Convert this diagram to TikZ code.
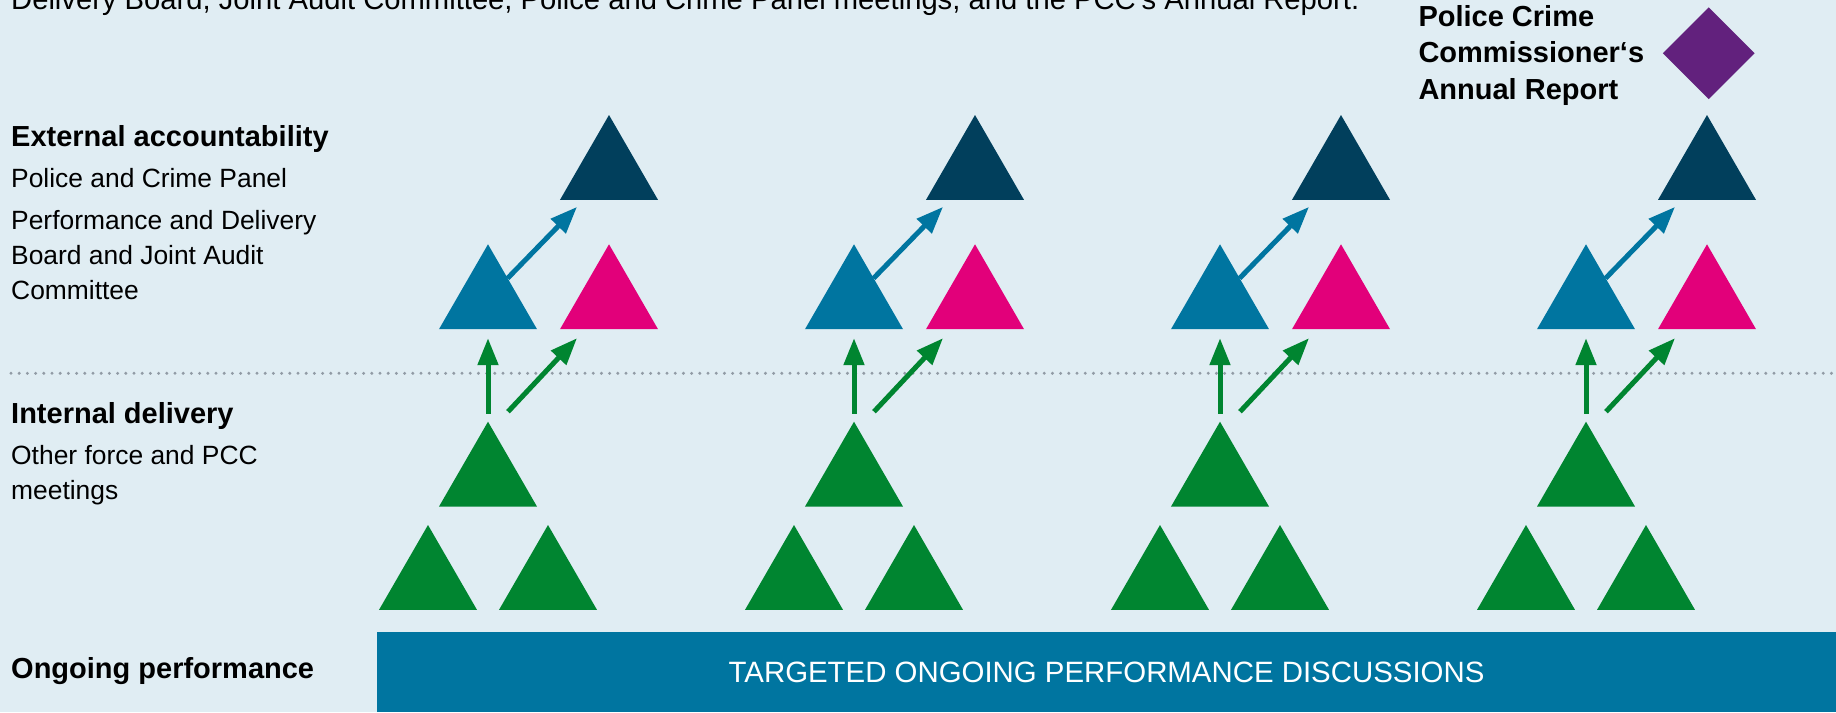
\documentclass[tikz,border=0pt]{standalone}
\usepackage{fontspec}
\setmainfont{Liberation Sans}
\usetikzlibrary{shapes.geometric, arrows.meta, calc}

\definecolor{bgblue}{RGB}{224,237,243}
\definecolor{navytri}{RGB}{1,63,92}
\definecolor{bluetri}{RGB}{0,117,160}
\definecolor{pinktri}{RGB}{226,0,122}
\definecolor{greentri}{RGB}{0,133,48}
\definecolor{pccpurple}{RGB}{98,33,125}
\definecolor{dotgrey}{RGB}{145,155,165}

\tikzset{
  tri/.style={regular polygon, regular polygon sides=3, minimum size=113.2pt,
    inner sep=0pt, outer sep=0pt, fill=#1},
  heading/.style={anchor=base west, inner sep=0pt, align=left,
    font=\bfseries\fontsize{29}{35}\selectfont},
  bodytext/.style={anchor=base west, inner sep=0pt, align=left,
    font=\fontsize{26.4}{35}\selectfont},
  arr/.style={draw=#1, line width=5pt, -{Triangle[width=20pt,length=27pt]}},
}

\begin{document}
\begin{tikzpicture}[x=1pt, y=-1pt]
\useasboundingbox (0,0) rectangle (1836,712);
\clip (0,0) rectangle (1836,712);
\fill [bgblue] (0,0) rectangle (1836,712);
% line cut off at the top
\node (intro) [bodytext, font=\fontsize{29.2}{35}\selectfont] at (11,9.5) {Delivery Board, Joint Audit Committee, Police and Crime Panel meetings, and the PCC's Annual Report.};
% left column (multi-line nodes sit on their last baseline)
\node (extacc) [heading] at (11,146) {External accountability};
\node (pcpanel) [bodytext] at (11,187.7) {Police and Crime Panel};
\node (pdboard) [bodytext] at (11,299.3) {Performance and Delivery\\Board and Joint Audit\\Committee};
\node (intdel) [heading] at (11,423.3) {Internal delivery};
\node (otherm) [bodytext] at (11,499.3) {Other force and PCC\\meetings};
\node (ongoing) [heading] at (11,678.3) {Ongoing performance};
% dotted divider
\coordinate (divL) at (11,373.3);
\coordinate (divR) at (1836,373.3);
\draw [dotgrey, line width=3.3pt, line cap=round, dash pattern=on 0pt off 8.2pt] (divL) -- (divR);
% annual report
\node (pccdia) [diamond, fill=pccpurple, minimum width=92pt, minimum height=92pt, inner sep=0pt] at (1708.7,53.3) {};
\node (pcctext) [heading, font=\bfseries\fontsize{29}{36.7}\selectfont] at (1418.3,99.4) {Police Crime\\Commissioner‘s\\Annual Report};
% the four groups
\foreach \i/\c in {1/488, 2/854, 3/1220, 4/1586} {
  \node (nv\i) [tri=navytri] at (\c+121,171.6) {};
  \node (bl\i) [tri=bluetri] at (\c,300.9) {};
  \node (pk\i) [tri=pinktri] at (\c+121,300.9) {};
  \node (gm\i) [tri=greentri] at (\c,478.3) {};
  \node (gl\i) [tri=greentri] at (\c-60,581.6) {};
  \node (gr\i) [tri=greentri] at (\c+60,581.6) {};
  \draw [arr=bluetri] ($(bl\i.corner 1)!0.4!(bl\i.corner 3)$) -- ([xshift=17pt,yshift=-7pt]nv\i.corner 2);
  \draw [arr=greentri] ([yshift=8pt]gm\i.corner 1) -- ([yshift=-9pt]bl\i.side 2);
  \draw [arr=greentri] ([xshift=20pt,yshift=10pt]gm\i.corner 1) -- ([xshift=17pt,yshift=-9pt]pk\i.corner 2);
}
% bottom bar
\node (bar) [fill=bluetri, minimum width=1459pt, minimum height=80pt, inner sep=0pt,
  text=white, font=\fontsize{29.4}{35}\selectfont] at (1106.5,672) {TARGETED ONGOING PERFORMANCE DISCUSSIONS};
\end{tikzpicture}
\end{document}
